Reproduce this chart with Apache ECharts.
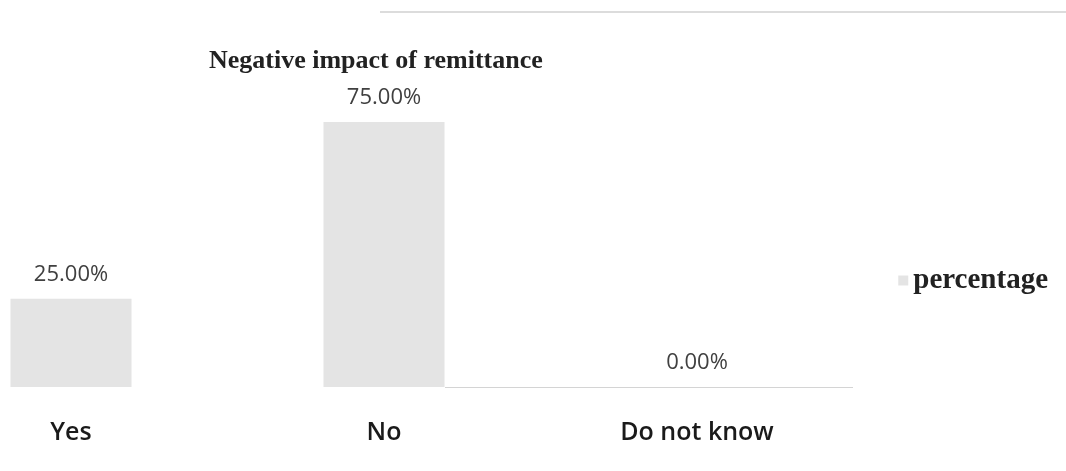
<!DOCTYPE html>
<html>
<head>
<meta charset="utf-8">
<script src="https://cdn.jsdelivr.net/npm/echarts@6/dist/echarts.min.js"></script>
<style>html,body{margin:0;padding:0;background:#fff;}#c{width:1066px;height:471px;}</style>
</head>
<body>
<div id="c"></div>
<script>
const categories = ['Yes', 'No', 'Do not know'];
const percentage = [25, 75, 0];
const seriesName = 'percentage';
const titleText = 'Negative impact of remittance';

const chart = echarts.init(document.getElementById('c'));
chart.setOption({
  animation: false,
  backgroundColor: '#ffffff',
  title: {
    text: titleText,
    left: 204, top: 43,
    textStyle: { fontFamily: 'Liberation Serif', fontWeight: 'bold', fontSize: 26, color: '#222' }
  },
  legend: {
    data: [seriesName],
    right: 13, top: 261,
    itemWidth: 10, itemHeight: 10, itemGap: 11,
    icon: 'rect',
    textStyle: { fontFamily: 'Liberation Serif', fontWeight: 'bold', fontSize: 29, color: '#222' }
  },
  grid: { left: 71, right: 369, top: 122, bottom: 84, containLabel: false },
  xAxis: {
    type: 'category',
    boundaryGap: false,
    data: categories,
    axisLine: { show: false },
    axisTick: { show: false },
    axisLabel: { fontFamily: 'Open Sans', fontWeight: 600, fontSize: 25, color: '#1a1a1a', margin: 33 }
  },
  yAxis: {
    type: 'value', min: 0, max: 75, show: false,
    splitLine: { show: false }
  },
  series: [{
    name: seriesName,
    type: 'bar',
    data: percentage,
    barWidth: 121,
    itemStyle: { color: '#e4e4e4' },
    label: {
      show: true, position: 'top', distance: 13,
      formatter: p => p.value.toFixed(2) + '%',
      fontFamily: 'Open Sans', fontSize: 22, color: '#404040'
    }
  }],
  graphic: [{
    type: 'line', shape: { x1: 380, y1: 12, x2: 1066, y2: 12 },
    style: { stroke: '#dcdcdc', lineWidth: 2 }, silent: true
  }, {
    type: 'line', shape: { x1: 445, y1: 387.5, x2: 853, y2: 387.5 },
    style: { stroke: '#d4d4d4', lineWidth: 1 }, silent: true
  }]
});
</script>
</body>
</html>
